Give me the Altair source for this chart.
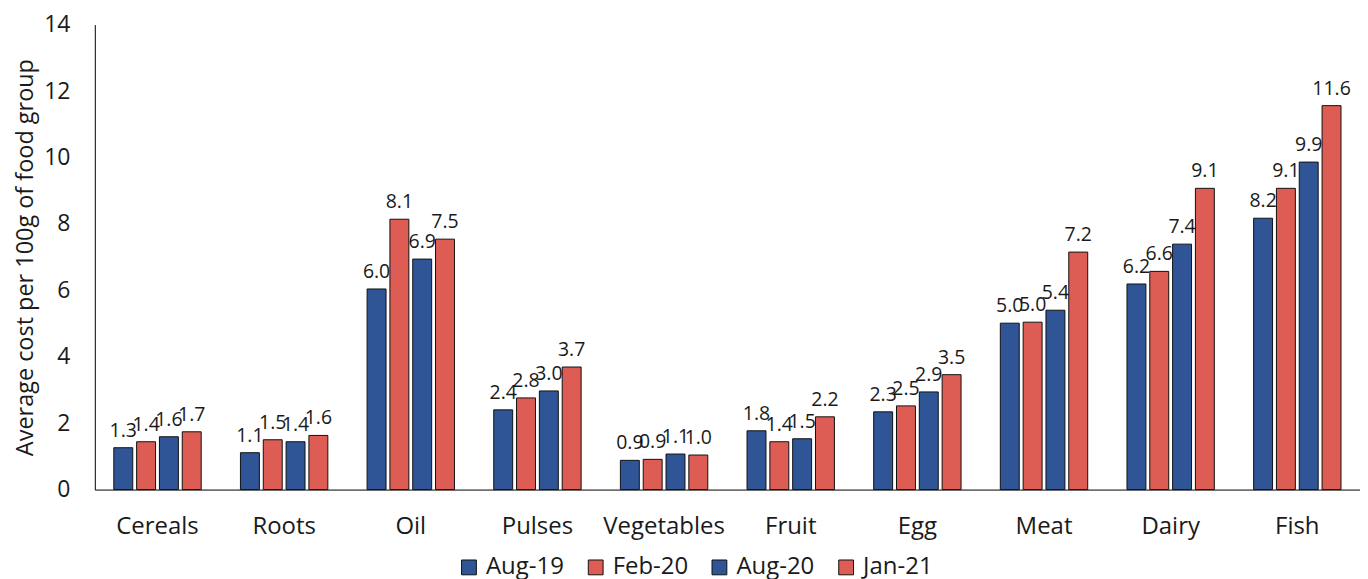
import altair as alt
import pandas as pd

categories = ["Cereals", "Roots", "Oil", "Pulses", "Vegetables", "Fruit", "Egg", "Meat", "Dairy", "Fish"]
series = ["Aug-19", "Feb-20", "Aug-20", "Jan-21"]
aug19 = [1.26, 1.11, 6.04, 2.40, 0.88, 1.77, 2.34, 5.01, 6.19, 8.17]
feb20 = [1.44, 1.50, 8.14, 2.76, 0.91, 1.44, 2.52, 5.04, 6.57, 9.07]
aug20 = [1.59, 1.44, 6.94, 2.97, 1.07, 1.53, 2.94, 5.40, 7.39, 9.86]
jan21 = [1.74, 1.63, 7.54, 3.69, 1.04, 2.19, 3.46, 7.15, 9.07, 11.56]
colors = ["#2F5597", "#DD5D54", "#2F5597", "#DD5D54"]

rows = []
for s, vals in zip(series, [aug19, feb20, aug20, jan21]):
    for c, v in zip(categories, vals):
        rows.append({"category": c, "series": s, "value": v})
df = pd.DataFrame(rows)

FONT = "Open Sans"

base = alt.Chart(df).encode(
    x=alt.X("category:N", sort=categories, title=None,
            scale=alt.Scale(paddingInner=0.31, paddingOuter=0.15),
            axis=alt.Axis(labelAngle=0, ticks=False, labelPadding=25, labelFontSize=24,
                          labelFont=FONT, labelColor="#1a1a1a", domainColor="#000000")),
    xOffset=alt.XOffset("series:N", sort=series,
                        scale=alt.Scale(paddingInner=0.17, paddingOuter=0.0)),
)

bars = base.mark_bar(stroke="#111111", strokeWidth=1).encode(
    y=alt.Y("value:Q", title="Average cost per 100g of food group",
            scale=alt.Scale(domain=[0, 14], nice=False),
            axis=alt.Axis(values=[0, 2, 4, 6, 8, 10, 12, 14], ticks=False, grid=False,
                          labelPadding=25, labelFontSize=23, labelFont=FONT, labelColor="#1a1a1a",
                          titleFont=FONT, titleFontSize=23.5, titleFontWeight="normal",
                          titleColor="#1a1a1a", titlePadding=6, domainColor="#000000")),
    color=alt.Color("series:N", sort=series,
                    scale=alt.Scale(domain=series, range=colors),
                    legend=alt.Legend(title=None, orient="none", direction="horizontal",
                                      legendX=363, legendY=532,
                                      symbolType="square", symbolSize=220,
                                      symbolStrokeColor="#111111", symbolStrokeWidth=1,
                                      symbolOpacity=1,
                                      labelFont=FONT, labelFontSize=24, labelColor="#1a1a1a",
                                      columnPadding=19, labelOffset=5)),
)

labels = base.mark_text(dy=-17, fontSize=19.5, font=FONT, color="#1a1a1a").encode(
    y=alt.Y("value:Q"),
    text=alt.Text("value:Q", format=".1f"),
)

chart = (bars + labels).properties(
    width=1268, height=466,
    padding={"left": 5, "top": 5, "right": 0, "bottom": 5},
).configure_view(stroke=None)

chart.save("out.html", embed_options={"renderer": "svg", "actions": False})
